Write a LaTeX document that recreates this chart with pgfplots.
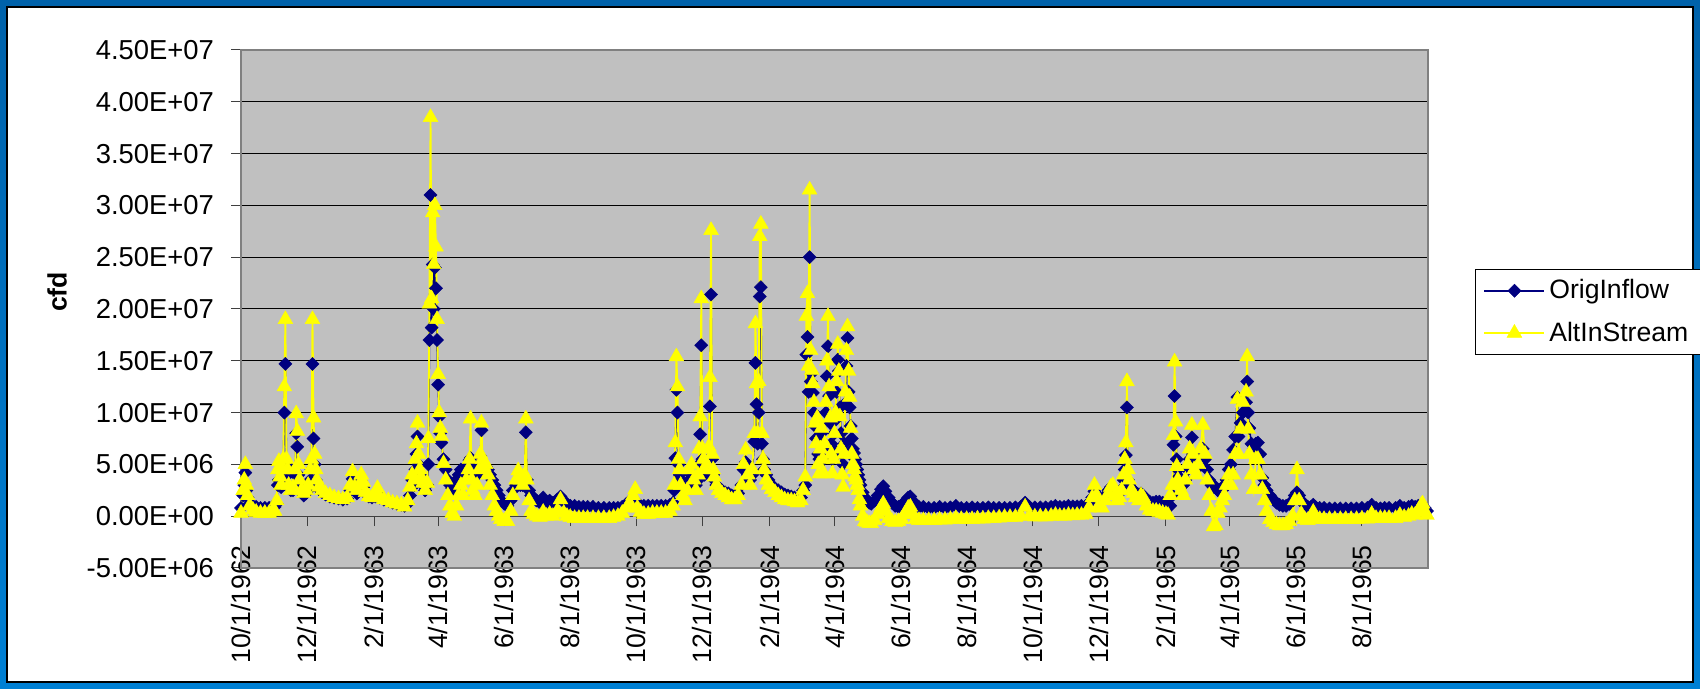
\documentclass[border=0pt]{standalone}
\usepackage{fontspec}
\setmainfont{Liberation Sans}
\usepackage{pgfplots}
\usepackage{pgfplotstable}
\pgfplotsset{compat=1.18}
\definecolor{frameblueT}{RGB}{0,98,170}
\definecolor{frameblueB}{RGB}{0,128,212}
\definecolor{plotgray}{RGB}{192,192,192}
\definecolor{navyb}{RGB}{0,0,128}
\definecolor{yel}{RGB}{255,255,0}

% day = days since 10/1/1962, values in millions of cfd
\pgfplotstableread{
d b y
0 0.8 0.3
2 2.0 2.5
3 3.0 3.5
4 4.2 5.0
5 2.5 3.0
6 1.8 2.0
8 1.2 1.0
11 1.0 0.6
14 0.9 0.4
18 0.8 0.3
22 0.8 0.3
26 0.8 0.3
29 0.9 0.5
31 0.9 0.5
33 1.2 1.5
34 3.0 4.5
35 3.5 5.3
36 3.0 3.8
37 2.8 3.0
38 3.5 4.5
39 4.5 5.5
40 10.0 12.5
41 14.7 19.0
42 5.0 5.5
43 4.0 4.5
44 3.0 3.0
46 2.5 2.5
48 2.5 2.8
50 4.0 4.5
51 8.0 9.9
52 6.7 8.2
53 4.0 5.0
54 3.0 3.5
56 2.3 2.5
58 2.0 2.2
60 2.2 2.5
62 2.5 3.0
64 3.5 4.5
65 4.5 5.5
66 14.7 19.0
67 7.5 9.5
68 5.0 6.0
69 3.5 4.5
70 3.0 3.5
72 2.6 2.8
75 2.3 2.5
78 2.1 2.2
82 1.9 2.0
86 1.8 1.8
90 1.7 1.7
94 1.6 1.6
98 1.7 1.8
101 2.5 3.0
103 3.6 4.3
105 2.5 2.8
107 2.2 2.5
109 2.5 3.0
111 3.4 4.0
113 2.8 3.3
115 2.2 2.3
118 1.9 1.9
121 1.8 1.8
124 1.9 2.0
126 2.2 2.7
128 1.8 1.8
132 1.6 1.6
136 1.5 1.5
140 1.3 1.3
144 1.2 1.2
148 1.1 1.1
151 1.0 0.9
154 1.2 1.5
156 2.0 2.8
158 3.5 4.0
160 3.0 3.5
161 4.5 5.5
162 6.0 7.0
163 7.7 9.0
164 5.0 6.0
165 4.0 4.5
166 3.5 3.8
168 3.0 3.2
170 2.5 2.5
172 3.0 3.2
173 5.0 7.5
174 17.0 20.5
175 31.0 38.5
176 18.2 21.0
177 24.3 29.3
178 20.0 24.3
179 24.0 30.0
180 22.0 26.0
181 17.0 19.0
182 12.7 13.7
183 9.6 10.0
184 8.0 8.5
185 7.1 7.7
187 5.5 5.1
189 4.5 3.5
191 3.5 2.0
193 3.0 1.0
195 2.7 0.3
197 2.5 0.0
199 3.5 1.0
201 4.0 2.0
203 4.5 3.0
205 4.5 2.0
208 4.8 3.5
210 5.0 4.5
211 5.4 5.5
212 5.6 9.4
213 4.5 3.5
214 4.0 2.5
216 3.8 2.0
218 4.0 3.0
220 5.0 4.5
221 5.8 6.0
222 8.3 9.0
223 5.0 5.5
224 4.5 4.8
226 4.8 5.0
228 4.5 4.0
230 4.0 3.0
232 3.5 2.0
234 3.0 1.0
236 2.5 0.5
238 2.0 0.0
240 1.5 -0.3
243 1.2 -0.5
246 1.0 -0.5
249 1.5 0.5
251 2.5 2.0
254 3.0 3.5
256 3.2 4.4
258 3.0 3.5
260 3.0 3.0
262 3.5 4.0
263 8.1 9.4
264 3.5 3.5
266 2.5 1.5
268 2.0 0.5
270 1.8 0.2
273 1.5 0.0
276 1.3 -0.1
279 1.8 0.4
282 1.3 0.0
285 1.5 0.2
288 1.3 0.0
292 1.6 0.5
295 1.9 1.6
298 1.4 0.3
301 1.2 0.0
304 1.0 -0.1
308 1.0 -0.2
312 0.9 -0.2
316 0.9 -0.2
320 0.9 -0.2
325 0.9 -0.2
330 0.8 -0.2
335 0.8 -0.2
340 0.8 -0.2
344 0.8 -0.1
348 0.8 0.0
352 0.9 0.3
356 1.2 0.8
359 1.5 1.2
362 1.6 2.0
364 1.5 2.6
366 1.1 0.8
369 1.0 0.4
372 1.0 0.2
376 1.0 0.2
380 1.0 0.3
384 1.0 0.3
388 1.0 0.3
392 1.0 0.3
396 1.1 0.5
399 1.3 1.0
400 2.5 3.0
401 5.6 7.1
402 12.2 15.4
403 10.0 12.5
404 5.0 5.5
405 4.0 4.5
406 3.5 3.0
408 3.0 2.0
410 2.6 1.5
412 2.8 2.5
414 3.5 4.5
416 4.0 5.0
418 3.5 3.5
420 3.0 2.5
422 3.5 4.0
423 5.0 6.5
424 7.9 9.6
425 16.5 21.0
426 5.5 6.5
427 4.5 5.5
428 4.0 4.5
430 4.5 5.0
432 5.5 6.7
433 10.6 13.4
434 21.4 27.6
435 5.5 6.0
436 4.0 4.5
437 3.5 3.8
439 3.0 3.0
441 2.8 2.5
444 2.5 2.2
447 2.3 2.0
450 2.2 1.8
453 2.0 1.6
456 2.0 1.6
459 2.2 2.0
462 3.0 3.0
464 4.5 5.0
466 5.2 6.4
468 4.0 4.0
470 3.5 3.0
472 4.0 4.5
474 7.2 8.0
475 14.8 18.6
476 10.8 12.8
477 7.0 8.0
478 10.0 13.0
479 21.2 27.0
480 22.1 28.2
481 7.0 8.0
482 5.5 5.5
483 4.5 4.5
485 4.0 3.5
487 3.5 3.0
490 3.0 2.6
493 2.7 2.3
496 2.5 2.0
499 2.3 1.8
502 2.1 1.6
505 2.0 1.5
508 1.9 1.5
511 1.8 1.4
514 1.7 1.3
517 1.8 1.5
519 2.5 2.5
521 3.0 3.8
522 15.6 19.3
523 17.3 21.5
524 12.0 14.5
525 25.0 31.5
526 13.0 16.0
527 13.8 14.1
528 11.9 12.8
529 10.0 11.0
530 8.7 9.0
531 7.5 7.0
532 8.6 9.5
533 6.0 5.0
534 5.5 4.1
535 7.0 6.5
536 8.0 8.5
537 6.5 5.5
538 5.5 4.1
539 7.0 7.0
540 10.0 11.0
541 13.5 15.0
542 16.4 19.3
543 11.6 12.5
544 9.0 9.5
545 7.0 6.0
546 5.5 4.1
547 6.5 5.5
548 8.0 8.0
549 9.3 10.0
550 12.0 13.0
551 15.1 16.6
552 14.0 14.0
553 10.5 9.6
554 8.0 6.5
555 6.0 4.0
556 5.0 2.8
557 7.0 6.0
558 10.9 12.0
559 14.5 16.0
560 17.2 18.3
561 12.0 14.0
562 10.5 11.5
563 8.7 8.5
564 7.5 6.0
565 6.5 5.0
566 6.1 4.5
567 5.5 3.8
568 5.0 3.5
569 4.5 3.0
570 4.0 2.5
571 3.5 1.6
572 3.0 1.0
574 2.3 0.0
576 1.8 -0.5
578 1.5 -0.6
580 1.3 -0.7
582 1.2 -0.7
585 1.5 -0.4
588 2.0 0.2
591 2.6 0.8
593 2.9 1.2
595 2.4 0.5
598 1.8 -0.2
601 1.3 -0.5
604 1.0 -0.6
607 0.9 -0.5
610 1.1 -0.3
613 1.4 0.2
616 1.8 0.8
618 1.9 0.9
620 1.5 0.2
623 1.1 -0.3
626 0.9 -0.4
630 0.9 -0.4
635 0.8 -0.4
640 0.8 -0.4
645 0.9 -0.35
650 0.8 -0.35
655 0.85 -0.3
660 1.0 -0.2
665 0.8 -0.3
670 0.8 -0.3
675 0.85 -0.3
680 0.8 -0.25
685 0.8 -0.25
690 0.85 -0.2
695 0.8 -0.2
700 0.8 -0.15
705 0.8 -0.1
710 0.8 -0.1
715 0.85 -0.1
720 0.9 0.0
724 1.3 0.9
728 0.9 0.0
733 0.85 -0.05
738 0.85 -0.05
743 0.85 -0.05
748 0.9 0.0
752 1.0 0.1
756 0.9 0.0
760 0.9 0.0
764 1.0 0.1
768 0.95 0.05
772 0.95 0.1
776 1.0 0.1
780 1.0 0.2
783 1.2 0.8
786 1.8 1.8
788 2.4 3.0
790 2.0 2.0
792 1.6 1.0
795 1.5 0.8
798 2.0 1.5
801 2.5 2.2
803 2.8 2.8
805 2.6 3.0
807 2.2 2.0
809 2.0 1.5
811 2.2 1.8
813 2.6 2.5
815 3.5 4.0
816 4.5 5.5
817 5.9 7.1
818 10.5 13.0
819 3.5 4.5
820 3.0 3.5
822 2.7 2.5
824 2.5 2.2
826 2.3 1.8
829 2.1 1.5
831 2.2 2.0
833 2.0 1.8
836 1.6 1.0
839 1.4 0.6
842 1.3 0.5
845 1.4 0.5
848 1.4 0.4
851 1.3 0.3
854 1.2 0.2
856 1.0 0.1
858 1.0 2.0
860 2.0 3.0
861 6.9 7.8
862 11.6 14.9
863 7.7 9.1
864 5.5 4.8
865 4.5 3.5
866 3.8 3.0
868 3.2 2.5
870 3.0 2.0
872 3.5 3.5
874 4.5 5.0
876 5.5 6.5
878 7.6 8.8
879 6.0 6.0
880 5.0 4.5
882 4.5 4.0
884 5.0 5.0
886 5.5 6.5
888 6.5 8.8
890 5.5 6.0
892 4.5 3.5
894 3.5 2.0
896 3.0 0.5
898 2.8 -1.0
900 2.8 -0.9
902 2.5 0.3
904 2.3 0.8
906 2.5 1.5
908 3.0 2.0
910 3.5 3.0
912 4.5 4.0
914 5.0 3.0
916 6.4 4.0
918 7.7 6.0
920 11.5 11.3
921 7.7 6.0
923 9.0 8.4
925 10.0 11.0
928 11.0 12.0
929 13.0 15.4
930 10.0 8.4
931 8.5 6.0
933 7.0 4.0
935 6.5 2.6
937 7.0 5.5
939 7.1 5.5
941 6.0 4.0
943 3.7 2.6
945 3.0 1.5
947 2.5 0.5
950 2.0 -0.3
953 1.6 -0.6
956 1.3 -0.8
959 1.1 -0.9
962 1.0 -0.9
965 1.0 -0.8
968 1.2 -0.5
971 1.5 0.0
973 2.0 1.5
975 2.3 4.5
977 2.0 1.5
979 1.5 0.2
982 1.1 -0.3
985 0.9 -0.4
988 0.9 -0.2
990 1.1 0.4
992 0.9 -0.2
996 0.8 -0.3
1000 0.8 -0.3
1005 0.75 -0.3
1010 0.75 -0.3
1015 0.75 -0.3
1020 0.75 -0.3
1025 0.75 -0.3
1030 0.75 -0.3
1035 0.8 -0.25
1040 0.8 -0.25
1044 1.1 0.2
1048 0.8 -0.2
1052 0.75 -0.2
1056 0.8 -0.2
1060 0.8 -0.2
1066 0.8 -0.2
1070 1.0 0.1
1074 0.8 -0.1
1078 0.9 0.0
1081 1.0 0.2
1084 0.9 0.1
1087 1.0 0.5
1090 1.1 1.1
1091 1.0 1.2
1093 0.8 0.4
1095 0.5 0.1
}\flowdata

\begin{document}
\begin{tikzpicture}
\useasboundingbox (0,0) rectangle (850pt,344.5pt);
\shade[top color=frameblueT, bottom color=frameblueB] (0,0) rectangle (850pt,344.5pt);
\fill[white, draw=black, line width=0.6pt] (3.5pt,3.5pt) rectangle (846.5pt,341pt);
\begin{axis}[
  at={(120.5pt,60.5pt)}, anchor=south west,
  width=593.5pt, height=259pt, scale only axis,
  xmin=0, xmax=1096, ymin=-5, ymax=45,
  axis x line*=middle, axis y line*=left,
  hide obscured x ticks=false,
  x axis line style={-, draw=black!75, line width=0.5pt},
  y axis line style={-, draw=black!75, line width=0.6pt},
  axis background/.style={fill=plotgray},
  ytick={-5,0,5,10,15,20,25,30,35,40,45},
  yticklabels={-5.00E+06,0.00E+00,5.00E+06,1.00E+07,1.50E+07,2.00E+07,2.50E+07,3.00E+07,3.50E+07,4.00E+07,4.50E+07},
  xtick={0,61,123,182,243,304,365,426,488,548,609,670,731,792,854,913,974,1035},
  xticklabels={10/1/1962,12/1/1962,2/1/1963,4/1/1963,6/1/1963,8/1/1963,10/1/1963,12/1/1963,2/1/1964,4/1/1964,6/1/1964,8/1/1964,10/1/1964,12/1/1964,2/1/1965,4/1/1965,6/1/1965,8/1/1965},
  ymajorgrids, major grid style={black, line width=0.5pt},
  tick align=outside, major tick length=5pt,
  tick style={black!75, line width=0.5pt},
  y tick label style={font=\fontsize{13.7}{16}\selectfont},
  yticklabel shift=5pt,
  x tick label style={font=\fontsize{13.3}{16}\selectfont, rotate=90, anchor=east},
  xticklabel shift=6pt,
  ylabel={\textbf{cfd}},
  ylabel style={font=\fontsize{13.3}{16}\selectfont, at={(axis description cs:-0.155,0.533)}, anchor=center, rotate=0},
  clip=false,
  legend style={at={(axis description cs:1.0396,0.577)}, anchor=north west, draw=black, line width=0.5pt, fill=white,
    font=\fontsize{13.3}{16}\selectfont, row sep=6pt, inner xsep=4pt, inner ysep=3pt},
  legend cell align=left,
  legend image code/.code={\draw[mark repeat=2,mark phase=2] plot coordinates {(0pt,0pt) (15pt,0pt) (30pt,0pt)};},
]
\draw[black!50, line width=0.6pt] (rel axis cs:0,0) rectangle (rel axis cs:1,1);
\addplot[navyb, line width=0.8pt, mark=diamond*, mark size=3.3pt,
  mark options={fill=navyb, draw=navyb, xscale=1.33, line width=0.2pt}] table[x=d,y=b]{\flowdata};
\addlegendentry{OrigInflow}
\addplot[yel, line width=0.9pt, mark=triangle*, mark size=4.3pt,
  mark options={fill=yel, draw=yel, line width=0.2pt}] table[x=d,y=y]{\flowdata};
\addlegendentry{AltInStream}
\end{axis}
\end{tikzpicture}
\end{document}
